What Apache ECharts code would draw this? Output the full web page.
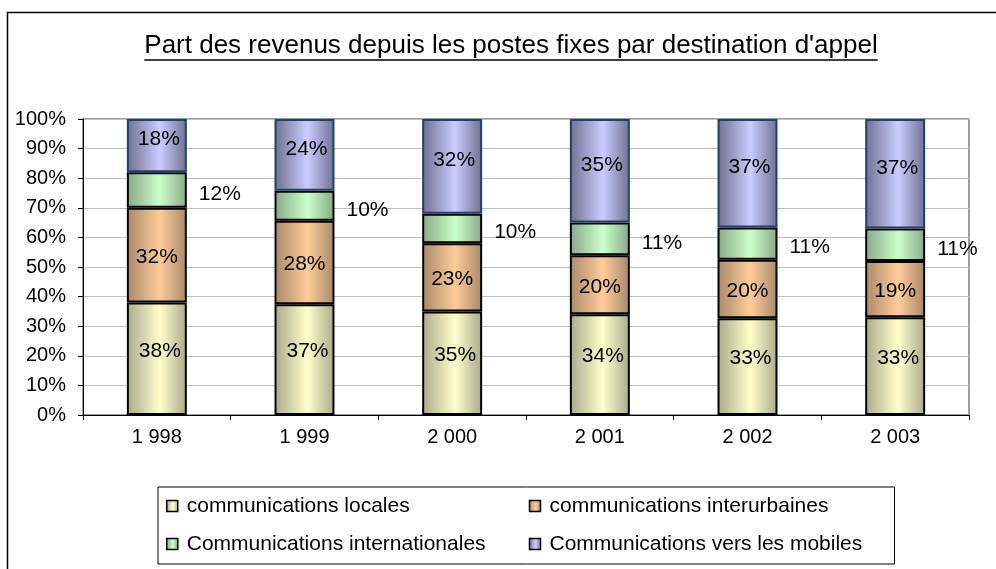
<!DOCTYPE html>
<html>
<head>
<meta charset="utf-8">
<script src="https://cdn.jsdelivr.net/npm/echarts@6/dist/echarts.min.js"></script>
<style>
html,body{margin:0;padding:0;background:#fff;}
#chart{width:996px;height:569px;}
</style>
</head>
<body>
<div id="chart"></div>
<script>
const titleText = "Part des revenus depuis les postes fixes par destination d'appel";
const years = ["1 998", "1 999", "2 000", "2 001", "2 002", "2 003"];
const seriesNames = ["communications locales", "communications interurbaines", "Communications internationales", "Communications vers les mobiles"];
const locales = [38, 37, 35, 34, 33, 33];
const interurbaines = [32, 28, 23, 20, 20, 19];
const internationales = [12, 10, 10, 11, 11, 11];
const mobiles = [18, 24, 32, 35, 37, 37];
const yTicks = [0, 10, 20, 30, 40, 50, 60, 70, 80, 90, 100];

const raw = [locales, interurbaines, internationales, mobiles];
const totals = years.map((_, i) => raw.reduce((s, arr) => s + arr[i], 0));

function grad(edge, light) {
  return {
    type: 'linear', x: 0, y: 0, x2: 1, y2: 0,
    colorStops: [
      { offset: 0, color: edge },
      { offset: 0.55, color: light },
      { offset: 1, color: edge }
    ]
  };
}
const fills = [
  grad('#a9aa8b', '#ffffcc'),
  grad('#a8896a', '#ffcc99'),
  grad('#88a888', '#ccffcc'),
  grad('#707090', '#ccccff')
];
const borders = ['#000000', '#000000', '#000000', '#1f3f6f'];
const labelPos = ['inside', 'inside', 'right', 'inside'];
const labelOff = [[3, -8], [0, 2], [0, 4], [2, -6]];

const FONT = 'Liberation Sans, Arial, sans-serif';

const series = raw.map((arr, k) => ({
  name: seriesNames[k],
  type: 'bar',
  stack: 'total',
  barWidth: '40.6%',
  data: arr.map((v, i) => ({ value: v / totals[i] * 100 })),
  itemStyle: { color: fills[k], borderColor: borders[k], borderWidth: 2 },
  label: {
    show: true,
    position: labelPos[k],
    distance: 12,
    offset: labelOff[k],
    color: '#000',
    fontFamily: FONT,
    fontSize: 21,
    formatter: p => arr[p.dataIndex] + '%'
  },
  emphasis: { disabled: true }
}));

// measure title width for underline
const cv = document.createElement('canvas').getContext('2d');
const titleSize = 26;
cv.font = titleSize + 'px "Liberation Sans"';
const tw = cv.measureText(titleText).width;
const tcx = 511, tcy = 46;

const chart = echarts.init(document.getElementById('chart'), null, { renderer: 'canvas' });
chart.setOption({
  animation: false,
  backgroundColor: '#fff',
  title: {
    text: titleText,
    left: tcx, top: tcy,
    textAlign: 'center', textVerticalAlign: 'middle',
    padding: 0,
    textStyle: { fontFamily: FONT, fontSize: titleSize, fontWeight: 'normal', color: '#000' }
  },
  graphic: [
    { type: 'rect', shape: { x: 7.5, y: 12.5, width: 1100, height: 700 }, style: { fill: null, stroke: '#000', lineWidth: 1.5 }, z: 100, silent: true },
    { type: 'line', shape: { x1: tcx - tw / 2, y1: tcy + 14, x2: tcx + tw / 2, y2: tcy + 14 }, style: { stroke: '#000', lineWidth: 1.5 }, z: 100, silent: true }
  ],
  grid: {
    left: 83, right: 27, top: 119, bottom: 154,
    show: true, borderColor: '#808080', borderWidth: 1.5, containLabel: false
  },
  legend: {
    data: seriesNames,
    left: 158, top: 487,
    width: 740,
    orient: 'horizontal',
    padding: [7, 17, 8, 8],
    itemWidth: 11, itemHeight: 11, itemGap: 14,
    borderColor: '#000', borderWidth: 1,
    icon: 'rect',
    itemStyle: { borderColor: '#000', borderWidth: 1.5 },
    textStyle: { fontFamily: FONT, fontSize: 21, color: '#000', width: 328, lineHeight: 24, padding: [0, 0, 0, 4] },
    selectedMode: false
  },
  xAxis: {
    type: 'category',
    data: years,
    boundaryGap: true,
    axisLine: { lineStyle: { color: '#000', width: 1 } },
    axisTick: { show: true, length: 5, interval: 0, lineStyle: { color: '#000' } },
    axisLabel: { fontFamily: FONT, fontSize: 20, color: '#000', margin: 12, interval: 0 },
    splitLine: { show: false }
  },
  yAxis: {
    type: 'value',
    min: yTicks[0], max: yTicks[yTicks.length - 1], interval: yTicks[1] - yTicks[0],
    axisLine: { show: true, lineStyle: { color: '#000', width: 1 } },
    axisTick: { show: true, length: 5, lineStyle: { color: '#000' } },
    axisLabel: { fontFamily: FONT, fontSize: 20, color: '#000', margin: 17, formatter: '{value}%' },
    splitLine: { show: true, lineStyle: { color: '#c0c0c0', width: 1 } }
  },
  series: series
});
</script>
</body>
</html>
